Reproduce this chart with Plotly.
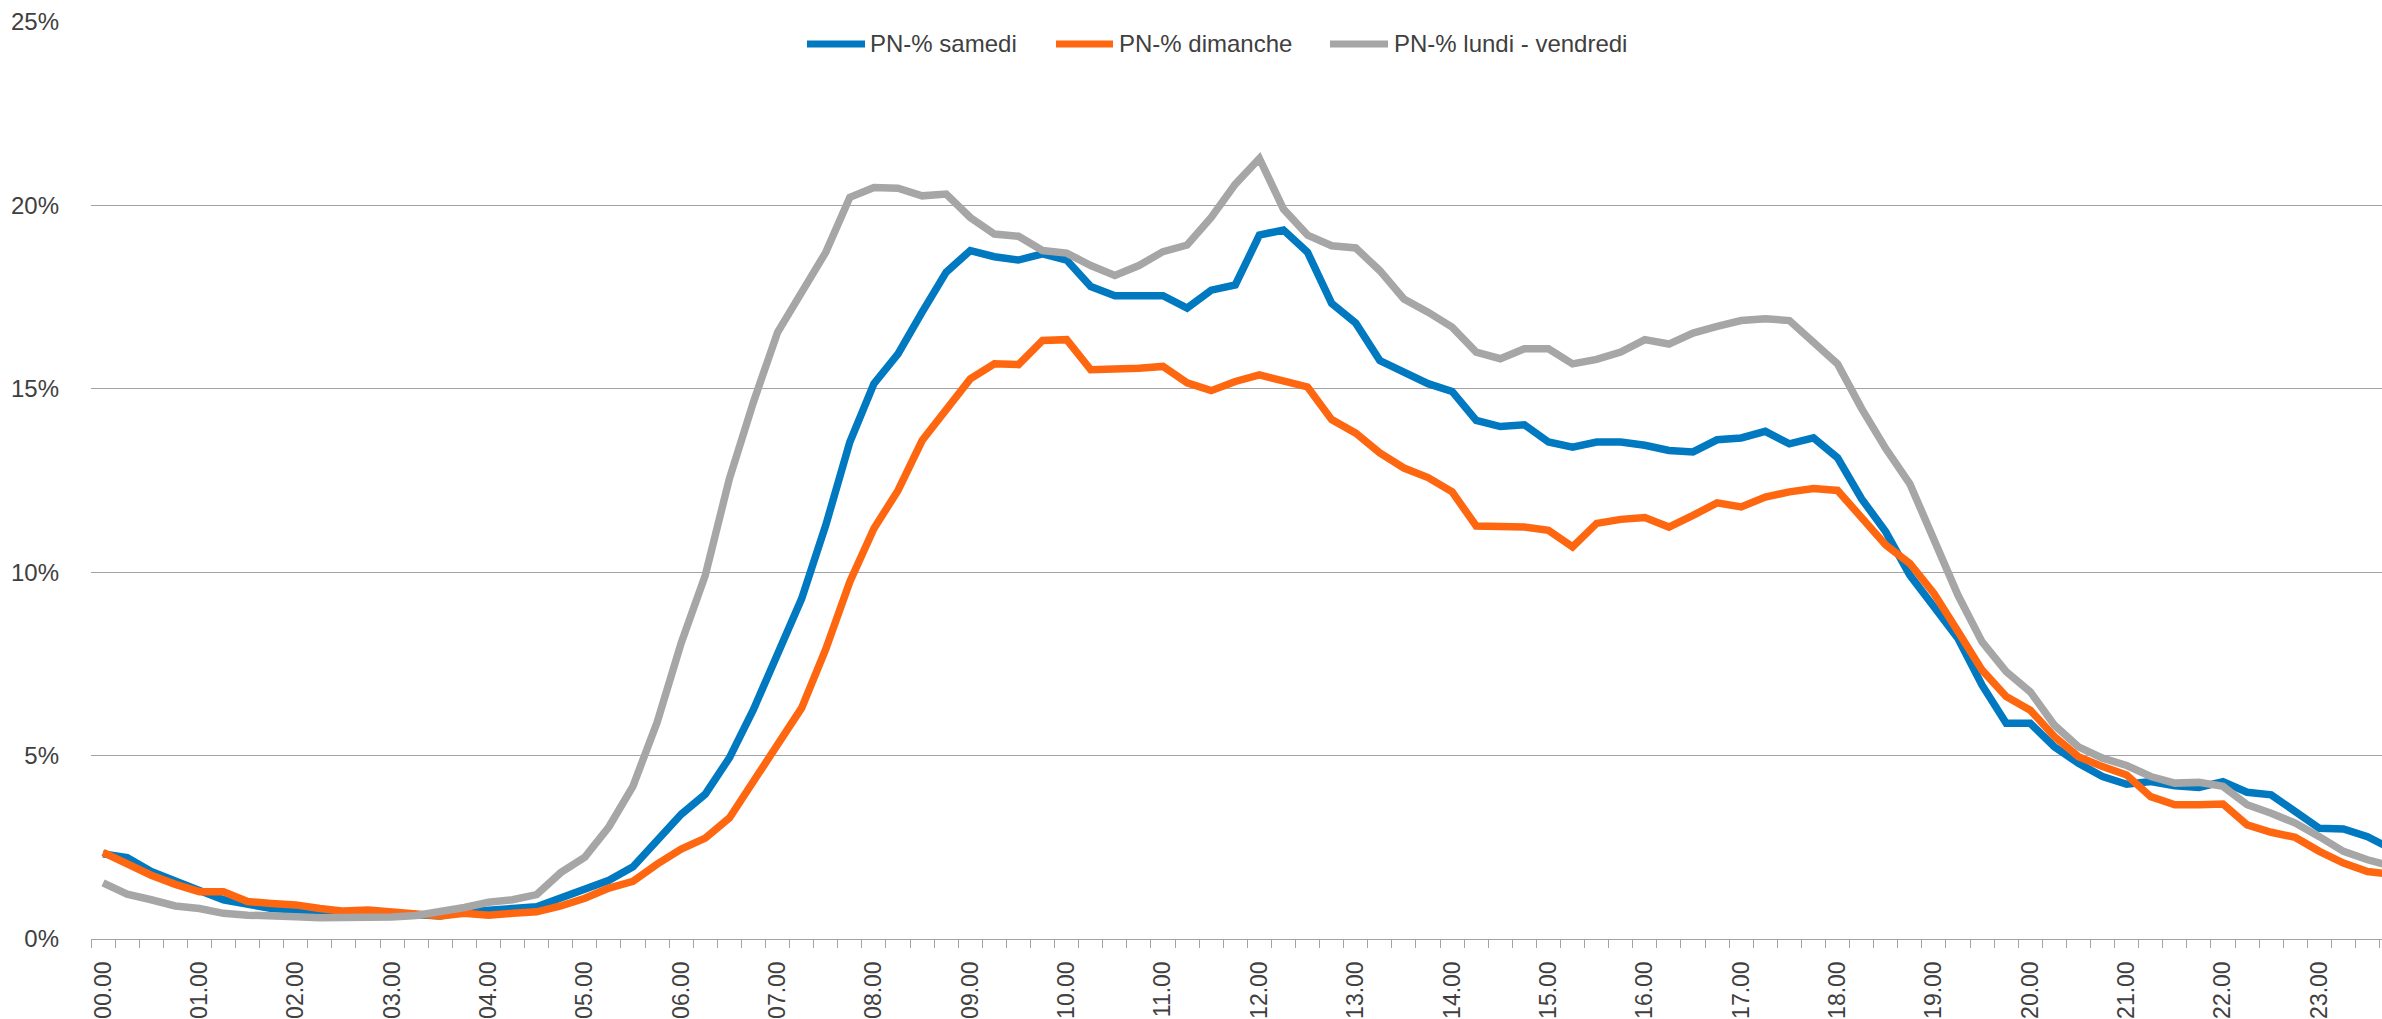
import plotly.graph_objects as go

# 15-minute slots 00.00 ... 23.45
times = [f"{h:02d}.{m:02d}" for h in range(24) for m in (0, 15, 30, 45)]
hour_labels = [f"{h:02d}.00" for h in range(24)]

samedi = [2.32, 2.22, 1.84, 1.56, 1.32, 1.07, 0.97, 0.83, 0.79, 0.75, 0.72, 0.72,
          0.70, 0.65, 0.63, 0.74, 0.81, 0.83, 0.88, 1.11, 1.39, 1.60, 1.97, 2.71,
          3.40, 3.95, 4.94, 6.26, 7.75, 9.28, 11.28, 13.55, 15.14, 15.95, 17.09, 18.18,
          18.77, 18.60, 18.51, 18.68, 18.51, 17.79, 17.54, 17.54, 17.54, 17.20, 17.69, 17.83,
          19.19, 19.33, 18.72, 17.33, 16.79, 15.77, 15.47, 15.14, 14.93, 14.14, 13.97, 14.02,
          13.55, 13.41, 13.55, 13.55, 13.46, 13.32, 13.28, 13.61, 13.66, 13.84, 13.50, 13.66,
          13.12, 12.00, 11.10, 9.92, 9.06, 8.19, 6.92, 5.88, 5.88, 5.24, 4.79, 4.43,
          4.22, 4.29, 4.18, 4.13, 4.29, 4.00, 3.93, 3.48, 3.02, 3.00, 2.79, 2.45]

dimanche = [2.36, 2.04, 1.74, 1.49, 1.29, 1.29, 1.02, 0.97, 0.93, 0.83, 0.76, 0.79,
            0.74, 0.70, 0.63, 0.70, 0.65, 0.70, 0.74, 0.90, 1.11, 1.39, 1.57, 2.04,
            2.45, 2.75, 3.30, 4.30, 5.27, 6.30, 7.90, 9.74, 11.19, 12.23, 13.59, 14.46,
            15.27, 15.68, 15.66, 16.32, 16.34, 15.52, 15.53, 15.56, 15.61, 15.16, 14.95, 15.20,
            15.38, 15.23, 15.05, 14.16, 13.79, 13.25, 12.84, 12.58, 12.19, 11.26, 11.25, 11.23,
            11.14, 10.69, 11.33, 11.44, 11.49, 11.23, 11.55, 11.89, 11.78, 12.05, 12.19, 12.28,
            12.23, 11.51, 10.74, 10.24, 9.42, 8.38, 7.33, 6.61, 6.24, 5.52, 4.97, 4.70,
            4.47, 3.88, 3.66, 3.66, 3.68, 3.11, 2.91, 2.77, 2.39, 2.07, 1.84, 1.76]

lundi_vendredi = [1.53, 1.22, 1.07, 0.90, 0.83, 0.70, 0.65, 0.65, 0.61, 0.58, 0.58, 0.58,
                  0.60, 0.64, 0.74, 0.86, 1.00, 1.07, 1.21, 1.81, 2.23, 3.06, 4.17, 5.91,
                  8.07, 9.92, 12.55, 14.64, 16.54, 17.63, 18.72, 20.22, 20.49, 20.47, 20.26, 20.31,
                  19.67, 19.22, 19.16, 18.77, 18.70, 18.36, 18.09, 18.36, 18.74, 18.92, 19.67, 20.58,
                  21.28, 19.90, 19.19, 18.90, 18.84, 18.22, 17.45, 17.09, 16.68, 16.00, 15.82, 16.09,
                  16.09, 15.68, 15.80, 16.00, 16.34, 16.22, 16.52, 16.70, 16.86, 16.91, 16.86, 16.27,
                  15.68, 14.46, 13.37, 12.41, 10.92, 9.37, 8.10, 7.29, 6.74, 5.83, 5.24, 4.93,
                  4.73, 4.43, 4.25, 4.27, 4.16, 3.66, 3.43, 3.16, 2.79, 2.39, 2.16, 1.98]

series_names = ["PN-% samedi", "PN-% dimanche", "PN-% lundi - vendredi"]
series_values = [samedi, dimanche, lundi_vendredi]
series_colors = ["#0079C1", "#FF6610", "#A6A6A6"]

FONT = "Liberation Sans, Arial, sans-serif"
TXT = "#404040"
GRID = "#A3A3A3"

W, H = 2382, 1019
ML, MR, MT, MB = 91, 0, 22, 78

x_idx = list(range(len(times)))
hour_idx = [times.index(h) for h in hour_labels]

fig = go.Figure()
for name, vals, col in zip(series_names, series_values, series_colors):
    fig.add_trace(go.Scatter(
        x=x_idx, y=vals, name=name, mode="lines",
        line=dict(color=col, width=7.5),
        customdata=times, hovertemplate="%{customdata}: %{y:.2f}%<extra>" + name + "</extra>",
        showlegend=False,
    ))

# custom legend (Excel-like long line samples)
pw = W - ML - MR
ph = H - MT - MB
def px_x(p):
    return (p - ML) / pw
def px_y(p):
    return (H - MB - p) / ph

leg_y = 44
leg_items = [(807, 865, 868), (1056, 1113, 1117), (1330, 1388, 1392)]
for (x0, x1, tx), name, col in zip(leg_items, series_names, series_colors):
    fig.add_shape(type="line", xref="paper", yref="paper",
                  x0=px_x(x0), x1=px_x(x1), y0=px_y(leg_y), y1=px_y(leg_y),
                  line=dict(color=col, width=7))
    fig.add_annotation(xref="paper", yref="paper", x=px_x(tx), y=px_y(leg_y),
                       text=name, showarrow=False, xanchor="left", yanchor="middle",
                       font=dict(family=FONT, size=24, color=TXT))

fig.update_layout(
    width=W, height=H, autosize=False,
    margin=dict(l=ML, r=MR, t=MT, b=MB, pad=0),
    paper_bgcolor="white", plot_bgcolor="white",
    font=dict(family=FONT, size=24, color=TXT),
    showlegend=False,
)
fig.update_xaxes(
    range=[-0.5, 94.6],
    tickmode="array", tickvals=hour_idx, ticktext=hour_labels,
    tickangle=-90, ticks="", showgrid=False, zeroline=False,
    showline=True, linecolor=GRID, linewidth=1.3,
    ticklabelstandoff=12,
    tickfont=dict(family=FONT, size=23, color=TXT),
    minor=dict(tickmode="linear", tick0=0.5, dtick=1, ticks="outside",
               ticklen=8, tickwidth=1.3, tickcolor=GRID, showgrid=False),
)
fig.update_yaxes(
    range=[0, 25], tickmode="linear", tick0=0, dtick=5, ticksuffix="%",
    showgrid=True, gridcolor=GRID, gridwidth=1.3, zeroline=False,
    showline=False, ticks="", ticklabelstandoff=31,
    tickfont=dict(family=FONT, size=24, color=TXT),
)

fig.write_html(
    "out.html", include_plotlyjs=True, config={"displayModeBar": False},
    post_script="document.body.style.margin='0';document.body.style.overflow='hidden';",
)
